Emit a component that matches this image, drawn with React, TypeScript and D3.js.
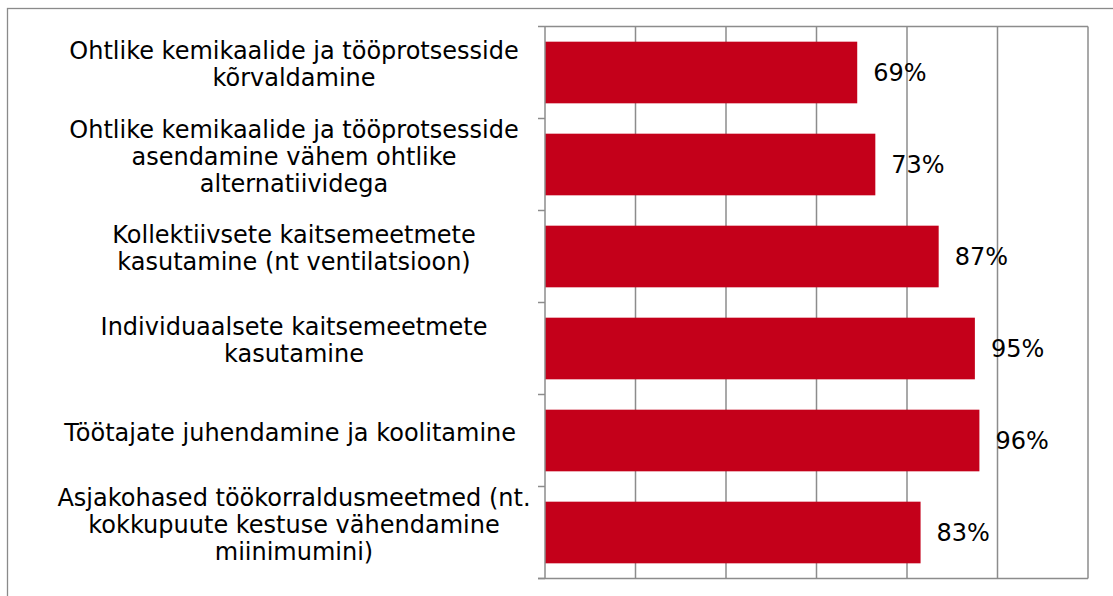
import { useEffect, useRef } from 'react'
import * as d3 from 'd3'

const categories: string[][] = [
  ['Ohtlike kemikaalide ja tööprotsesside', 'kõrvaldamine'],
  ['Ohtlike kemikaalide ja tööprotsesside', 'asendamine vähem ohtlike', 'alternatiividega'],
  ['Kollektiivsete kaitsemeetmete', 'kasutamine (nt ventilatsioon)'],
  ['Individuaalsete kaitsemeetmete', 'kasutamine'],
  ['Töötajate juhendamine ja koolitamine '],
  ['Asjakohased töökorraldusmeetmed (nt.', 'kokkupuute kestuse vähendamine', 'miinimumini)']
]
const values = [69, 73, 87, 95, 96, 83]
const gridTicks = [0, 20, 40, 60, 80, 100, 120]

const W = 1113
const H = 596
const FONT = '"DejaVu Sans", Verdana, sans-serif'

const App = () => {
  const ref = useRef<SVGSVGElement>(null)

  useEffect(() => {
    const svg = d3.select(ref.current)
    svg.selectAll('*').remove()

    const left = 545
    const right = 1088
    const top = 26.5
    const bottom = 578.5

    const x = d3.scaleLinear().domain([0, 120]).range([left, right])
    const ids = d3.range(categories.length)
    const y = d3.scaleBand<number>().domain(ids).range([top, bottom]).paddingInner(0.33).paddingOuter(0.165)
    const band = d3.scaleBand<number>().domain(ids).range([top, bottom])

    // outer chart frame (cropped on right and bottom)
    svg.append('rect')
      .attr('x', 7.5).attr('y', 8.5)
      .attr('width', W + 20).attr('height', H + 20)
      .attr('fill', '#fff')
      .attr('stroke', '#8a8a8a')
      .attr('stroke-width', 1.3)

    // vertical gridlines
    svg.append('g')
      .selectAll('line')
      .data(gridTicks.slice(1))
      .enter()
      .append('line')
      .attr('x1', (d) => x(d)).attr('x2', (d) => x(d))
      .attr('y1', top).attr('y2', bottom)
      .attr('stroke', '#8c8c8c')
      .attr('stroke-width', 1.5)

    // top and bottom frame of plot
    svg.append('line')
      .attr('x1', left).attr('x2', right).attr('y1', top).attr('y2', top)
      .attr('stroke', '#8c8c8c').attr('stroke-width', 1.5)
    svg.append('line')
      .attr('x1', left - 7).attr('x2', right).attr('y1', bottom).attr('y2', bottom)
      .attr('stroke', '#8c8c8c').attr('stroke-width', 1.5)

    // bars
    svg.append('g')
      .selectAll('rect')
      .data(values)
      .enter()
      .append('rect')
      .attr('x', x(0))
      .attr('y', (d, i) => y(i) as number)
      .attr('width', (d) => x(d) - x(0))
      .attr('height', y.bandwidth())
      .attr('fill', '#c4001a')

    // category axis
    svg.append('line')
      .attr('x1', left).attr('x2', left).attr('y1', top).attr('y2', bottom)
      .attr('stroke', '#8c8c8c').attr('stroke-width', 1.5)
    svg.append('g')
      .selectAll('line')
      .data(d3.range(categories.length + 1))
      .enter()
      .append('line')
      .attr('x1', left - 7).attr('x2', left)
      .attr('y1', (d) => top + d * band.step())
      .attr('y2', (d) => top + d * band.step())
      .attr('stroke', '#8c8c8c').attr('stroke-width', 1.5)

    // category labels
    const lineH = 27
    const cx = 294
    const labels = svg.append('g')
      .attr('font-family', FONT)
      .attr('font-size', 24)
      .attr('fill', '#000')
      .attr('text-anchor', 'middle')
    categories.forEach((lines, i) => {
      const cy = (band(i) as number) + band.bandwidth() / 2
      const t = labels.append('text')
        .attr('x', cx)
        .attr('y', cy - ((lines.length - 1) * lineH) / 2)
        .attr('dy', '0.35em')
        .style('white-space', 'pre')
      lines.forEach((l, j) => {
        t.append('tspan').attr('x', cx).attr('dy', j === 0 ? 0 : lineH).text(l)
      })
    })

    // value labels
    svg.append('g')
      .selectAll('text')
      .data(values)
      .enter()
      .append('text')
      .attr('x', (d) => x(d) + 16)
      .attr('y', (d, i) => (y(i) as number) + y.bandwidth() / 2)
      .attr('dy', '0.37em')
      .attr('font-family', FONT)
      .attr('font-size', 24)
      .text((d) => d + '%')
  }, [])

  return (
    <svg
      ref={ref}
      width={W}
      height={H}
      style={{ position: 'absolute', left: 0, top: 0, background: '#fff' }}
    />
  )
}

export default App
